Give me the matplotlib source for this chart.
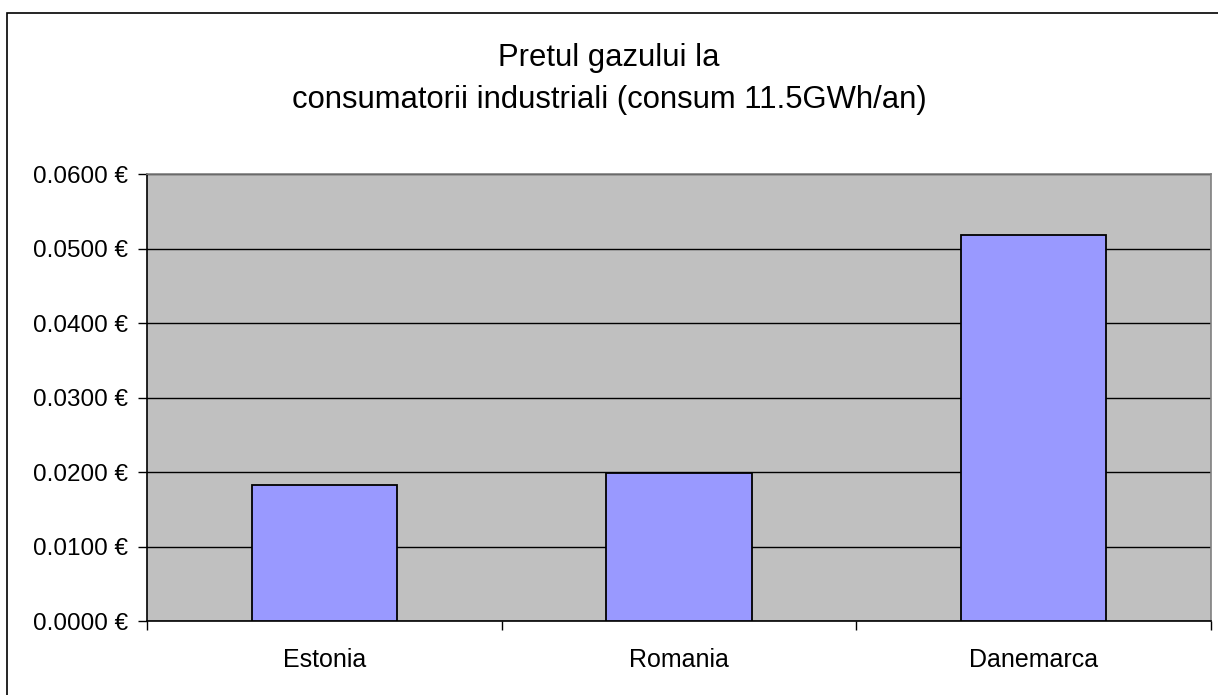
import matplotlib
matplotlib.use('Agg')
import matplotlib.pyplot as plt
from matplotlib.patches import Rectangle
import numpy as np

plt.rcParams['font.family'] = ['Liberation Sans', 'DejaVu Sans']

# data
tari = ['Estonia', 'Romania', 'Danemarca']
pret = [0.0183, 0.0199, 0.0518]
yticks = [0.0, 0.01, 0.02, 0.03, 0.04, 0.05, 0.06]

fig = plt.figure(figsize=(12.18, 6.95), dpi=100)
ax = fig.add_axes([147/1218, 1 - 621.3/695, (1211 - 147)/1218, (621.3 - 174.3)/695])

ax.set_facecolor('#C0C0C0')
x = np.arange(len(tari))
ax.bar(x, pret, width=0.41, color='#9999FF', edgecolor='black', linewidth=1.3, zorder=3)

ax.set_xlim(-0.5, len(tari) - 0.5)
ax.set_ylim(0, 0.06)
ax.set_yticks(yticks)
ax.set_yticklabels([f'{v:.4f} €' for v in yticks], fontsize=17.5)
ax.yaxis.grid(True, color='black', linewidth=1, zorder=1)
ax.set_axisbelow(True)

# category labels between boundary ticks
ax.set_xticks(x)
ax.set_xticklabels(tari, fontsize=18)
ax.tick_params(axis='x', length=0, pad=19)
ax.set_xticks(np.arange(-0.5, len(tari)), minor=True)
ax.tick_params(axis='x', which='minor', length=6.5, width=1, color='black')
ax.tick_params(axis='y', length=6.5, width=1, color='black', pad=7)

ax.spines['left'].set_color('black')
ax.spines['bottom'].set_color('black')
ax.spines['top'].set_color('#808080')
ax.spines['right'].set_color('#808080')
for s in ax.spines.values():
    s.set_linewidth(1.2)

fig.text(0.5, 1 - 58/695, 'Pretul gazului la', ha='center', va='center', fontsize=22.3)
fig.text(0.5, 1 - 100/695, 'consumatorii industriali (consum 11.5GWh/an)',
         ha='center', va='center', fontsize=22.3)

# outer chart border (right and bottom edges fall outside the image)
top = 1 - 13/695
fig.patches.append(Rectangle((7/1218, -0.02), 1.05, top + 0.02,
                             transform=fig.transFigure, fill=False,
                             edgecolor='black', linewidth=1.2))

fig.savefig('out.png', dpi=100, facecolor='white')
